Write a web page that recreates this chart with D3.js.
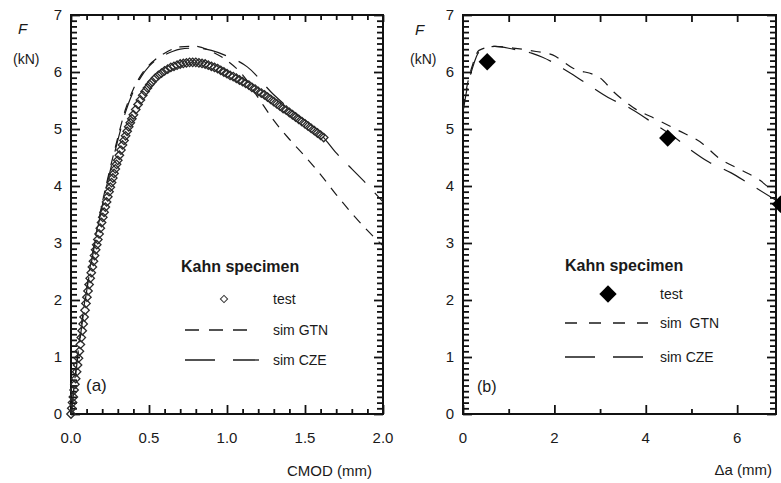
<!DOCTYPE html>
<html><head><meta charset="utf-8">
<script src="https://cdn.jsdelivr.net/npm/d3@7"></script>
<style>
body{margin:0;background:#fff}
svg text{font-family:"Liberation Sans",Arial,sans-serif;fill:#1a1a1a}
</style></head>
<body><svg id="c" width="781" height="483"></svg>
<script>
// ---------- data ----------
const testCmod = [0,0.005,0.01,0.015,0.02,0.025,0.03,0.036,0.042,0.048,0.054,0.06,0.066,0.072,0.078,0.084,0.09,0.096,0.102,0.109,0.116,0.123,0.13,0.137,0.144,0.151,0.158,0.165,0.172,0.18,0.188,0.196,0.204,0.212,0.22,0.228,0.236,0.244,0.252,0.26,0.268,0.276,0.284,0.292,0.30,0.31,0.32,0.33,0.34,0.35,0.36,0.37,0.38,0.39,0.40,0.415,0.43,0.445,0.46,0.475,0.49,0.505,0.52,0.54,0.56,0.58,0.60,0.62,0.64,0.66,0.68,0.70,0.72,0.74,0.76,0.78,0.80,0.82,0.84,0.86,0.88,0.90,0.92,0.94,0.96,0.98,1.0,1.02,1.04,1.06,1.08,1.10,1.12,1.14,1.16,1.18,1.20,1.22,1.24,1.26,1.28,1.30,1.32,1.34,1.36,1.38,1.40,1.42,1.44,1.46,1.48,1.50,1.52,1.54,1.56,1.58,1.60,1.62];
const testF = [0,0.1,0.2,0.3,0.42,0.52,0.62,0.74,0.86,0.98,1.1,1.22,1.34,1.46,1.58,1.7,1.82,1.94,2.05,2.16,2.27,2.38,2.48,2.58,2.68,2.78,2.88,2.97,3.06,3.16,3.26,3.36,3.45,3.54,3.63,3.72,3.81,3.9,3.98,4.06,4.14,4.22,4.3,4.38,4.45,4.54,4.63,4.72,4.8,4.88,4.96,5.04,5.11,5.18,5.25,5.34,5.43,5.51,5.59,5.66,5.72,5.78,5.83,5.89,5.94,5.98,6.02,6.05,6.08,6.1,6.12,6.14,6.15,6.16,6.17,6.17,6.17,6.16,6.15,6.14,6.12,6.1,6.08,6.06,6.03,6.0,5.97,5.94,5.92,5.89,5.86,5.83,5.8,5.77,5.73,5.7,5.66,5.63,5.6,5.56,5.52,5.48,5.44,5.4,5.36,5.33,5.29,5.25,5.21,5.17,5.13,5.09,5.05,5.01,4.97,4.93,4.89,4.85];
const gtnCmod = [0,0.05,0.1,0.15,0.2,0.25,0.3,0.35,0.4,0.45,0.5,0.55,0.6,0.65,0.7,0.8,0.9,1.0,1.1,1.2,1.3,1.4,1.5,1.6,1.7,1.8,1.9,2.0];
const gtnF    = [0,1.2,2.2,3.0,3.7,4.3,4.85,5.35,5.7,5.95,6.12,6.24,6.33,6.4,6.44,6.45,6.36,6.2,5.95,5.55,5.15,4.82,4.52,4.2,3.85,3.52,3.22,2.95];
const czeCmod = [0,0.05,0.1,0.15,0.2,0.25,0.3,0.35,0.4,0.45,0.5,0.55,0.6,0.65,0.7,0.8,0.9,1.0,1.13,1.3,1.45,1.55,1.62,1.7,1.8,1.9,2.0];
const czeF    = [0,1.15,2.15,2.95,3.65,4.25,4.8,5.3,5.66,5.92,6.1,6.22,6.3,6.36,6.4,6.42,6.38,6.28,6.09,5.6,5.25,5.05,4.85,4.58,4.3,4.02,3.72];
const testDa = [0.53,4.48,6.95];
const testFb = [6.18,4.84,3.68];
const gtnDa = [0,0.1,0.2,0.35,0.7,1.1,1.6,1.96,2.40,3.01,3.30,3.74,4.26,4.70,5.23,5.60,6.09,6.48,6.85];
const gtnFb = [5.35,5.8,6.1,6.38,6.45,6.42,6.36,6.30,6.07,5.89,5.65,5.37,5.16,4.98,4.75,4.49,4.28,4.11,3.85];
const czeDa = [0,0.1,0.2,0.35,0.7,1.1,1.5,1.74,2.31,2.68,3.23,3.60,4.15,4.62,4.99,5.38,5.87,6.24,6.85];
const czeFb = [5.3,5.75,6.05,6.35,6.45,6.4,6.33,6.26,6.0,5.81,5.53,5.39,5.11,4.86,4.63,4.42,4.23,4.05,3.75];
const xTicksA = [0,0.5,1,1.5,2];
const xLabelsA = ["0.0","0.5","1.0","1.5","2.0"];
const xTicksB = [0,2,4,6];
const xLabelsB = ["0","2","4","6"];
const yTicks = [0,1,2,3,4,5,6,7];

// ---------- drawing ----------
const svg = d3.select("#c");
const xA = d3.scaleLinear([0,2],[71,383]);
const yA = d3.scaleLinear([0,7],[414,15]);
const xB = d3.scaleLinear([0,6.85],[463,776]);
const yB = d3.scaleLinear([0,7],[414,15]);
const FS = 15;
const INK = "#111";

function frame(x, y, xMajor, xMinor, xLabels, xTopMajor, xTopMinor){
  const [x0,x1]=x.range(), [y0,y1]=y.range();
  const g = svg.append("g");
  const yMinor = d3.range(0,71).map(i=>i/10).filter(v=>Math.abs(v-Math.round(v))>1e-6);
  const add = (gen, tr) => {
    const a = g.append("g").attr("transform",tr).call(gen);
    a.select(".domain").remove();
    a.selectAll("line").attr("stroke",INK).attr("stroke-width",1.8);
  };
  add(d3.axisBottom(x).tickValues(xMajor).tickSizeInner(-9).tickSizeOuter(0).tickFormat(""), `translate(0,${y0})`);
  add(d3.axisBottom(x).tickValues(xMinor).tickSizeInner(-5).tickSizeOuter(0).tickFormat(""), `translate(0,${y0})`);
  add(d3.axisTop(x).tickValues(xTopMajor).tickSizeInner(-7).tickSizeOuter(0).tickFormat(""), `translate(0,${y1})`);
  if(xTopMinor.length) add(d3.axisTop(x).tickValues(xTopMinor).tickSizeInner(-5).tickSizeOuter(0).tickFormat(""), `translate(0,${y1})`);
  add(d3.axisLeft(y).tickValues(yTicks).tickSizeInner(-9).tickSizeOuter(0).tickFormat(""), `translate(${x0},0)`);
  add(d3.axisLeft(y).tickValues(yMinor).tickSizeInner(-6).tickSizeOuter(0).tickFormat(""), `translate(${x0},0)`);
  add(d3.axisRight(y).tickValues(yTicks).tickSizeInner(-9).tickSizeOuter(0).tickFormat(""), `translate(${x1},0)`);
  add(d3.axisRight(y).tickValues(yMinor).tickSizeInner(-6).tickSizeOuter(0).tickFormat(""), `translate(${x1},0)`);
  g.append("rect").attr("x",x0).attr("y",y1).attr("width",x1-x0).attr("height",y0-y1)
   .attr("fill","none").attr("stroke",INK).attr("stroke-width",2);
  g.append("g").selectAll("text").data(xMajor).join("text")
   .attr("x",v=>x(v)).attr("y",443).attr("text-anchor","middle").attr("font-size",FS)
   .text((v,i)=>xLabels[i]);
  g.append("g").selectAll("text").data(yTicks).join("text")
   .attr("x",x0-9).attr("y",v=>y(v)).attr("dy","0.36em").attr("text-anchor","end").attr("font-size",FS)
   .text(v=>v);
}

const minorA = d3.range(0,21).map(i=>i/10).filter(v=>Math.abs(v*2-Math.round(v*2))>1e-6);
frame(xA, yA, xTicksA, minorA, xLabelsA, xTicksA, minorA);
frame(xB, yB, xTicksB, [1,3,5], xLabelsB, [1,2,3,4,5,6], []);

function curve(x,y,xs,ys,dash){
  const pts = xs.map((v,i)=>[x(v),y(ys[i])]);
  svg.append("path").attr("d",d3.line().curve(d3.curveMonotoneX)(pts))
    .attr("fill","none").attr("stroke","#1a1a1a").attr("stroke-width",1.2).attr("stroke-dasharray",dash);
}
curve(xA,yA,gtnCmod,gtnF,"10,8");
curve(xA,yA,czeCmod,czeF,"24,14");
curve(xB,yB,gtnDa,gtnFb,"10,9");
curve(xB,yB,czeDa,czeFb,"24,14");

const smallDia = d3.symbol().type(d3.symbolSquare).size(36);
svg.append("g").selectAll("path").data(testCmod.map((v,i)=>[v,testF[i]])).join("path")
  .attr("d",smallDia).attr("transform",d=>`translate(${xA(d[0])},${yA(d[1])}) rotate(45)`)
  .attr("fill","none").attr("stroke","#2a2a2a").attr("stroke-width",1.3);
const bigDia = d3.symbol().type(d3.symbolSquare).size(150);
svg.append("g").selectAll("path").data(testDa.map((v,i)=>[v,testFb[i]])).join("path")
  .attr("d",bigDia).attr("transform",d=>`translate(${xB(d[0])},${yB(d[1])}) rotate(45)`)
  .attr("fill","#000");

function txt(x,y,s,opt={}){
  const t=svg.append("text").attr("x",x).attr("y",y).text(s).attr("font-size",opt.size||FS);
  if(opt.italic) t.attr("font-style","italic");
  if(opt.bold) t.attr("font-weight","bold");
  if(opt.anchor) t.attr("text-anchor",opt.anchor);
  if(opt.family) t.attr("font-family",opt.family);
  return t;
}
txt(18,34,"F",{italic:true,size:15});
txt(13,64,"(kN)",{size:14});
txt(415,35,"F",{italic:true,size:15});
txt(410,64,"(kN)",{size:14});
txt(372,476,"CMOD (mm)",{anchor:"end",size:15});
txt(772,475,"\u0394a (mm)",{anchor:"end",size:15});
txt(86,391,"(a)",{size:17,family:"Liberation Serif, Times New Roman, serif"});
txt(477,392,"(b)",{size:16});

txt(181,272,"Kahn specimen",{bold:true,size:16});
svg.append("path").attr("d",d3.symbol().type(d3.symbolSquare).size(26)).attr("transform",`translate(${224},${299}) rotate(45)`).attr("fill","none").attr("stroke","#333");
txt(273,304,"test",{size:14});
svg.append("line").attr("x1",185).attr("x2",250).attr("y1",330).attr("y2",330).attr("stroke","#1a1a1a").attr("stroke-width",1.3).attr("stroke-dasharray","14,10");
txt(273,335,"sim GTN",{size:14});
svg.append("line").attr("x1",185).attr("x2",259).attr("y1",360).attr("y2",360).attr("stroke","#1a1a1a").attr("stroke-width",1.3).attr("stroke-dasharray","30,18");
txt(273,365,"sim CZE",{size:14});

txt(565,271,"Kahn specimen",{bold:true,size:16});
svg.append("path").attr("d",bigDia).attr("transform",`translate(${608},${294}) rotate(45)`).attr("fill","#000");
txt(660,299,"test",{size:14});
svg.append("line").attr("x1",565).attr("x2",648).attr("y1",323).attr("y2",323).attr("stroke","#1a1a1a").attr("stroke-width",1.3).attr("stroke-dasharray","12,12");
txt(660,328,"sim  GTN",{size:14}).style("white-space","pre");
svg.append("line").attr("x1",565).attr("x2",644).attr("y1",357).attr("y2",357).attr("stroke","#1a1a1a").attr("stroke-width",1.3).attr("stroke-dasharray","30,18");
txt(660,362,"sim CZE",{size:14});
</script></body></html>
